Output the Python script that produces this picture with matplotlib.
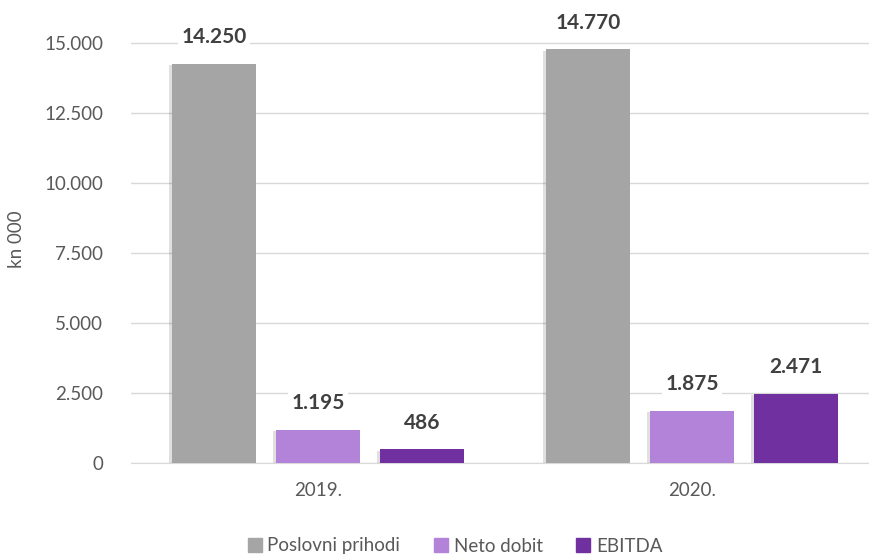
import numpy as np
import matplotlib
matplotlib.use("Agg")
import matplotlib.pyplot as plt
import matplotlib.patheffects as pe
from matplotlib.patches import Patch
from matplotlib.ticker import FuncFormatter

years = ["2019.", "2020."]
series_names = ["Poslovni prihodi", "Neto dobit", "EBITDA"]
poslovni_prihodi = [14250, 14770]
neto_dobit = [1195, 1875]
ebitda = [486, 2471]
colors = ["#A5A5A5", "#B383DA", "#7030A0"]

plt.rcParams["font.family"] = ["Lato", "DejaVu Sans"]

W, H = 870, 558
fig = plt.figure(figsize=(W / 100, H / 100), dpi=100)
ax = fig.add_axes([131 / W, 95 / H, (870 - 131) / W, (463 - 15) / H])

x = np.arange(len(years))
width = 84 / 374
step = 104 / 374
shadow = [pe.SimplePatchShadow(offset=(-2, -1), shadow_rgbFace="#000000", alpha=0.12), pe.Normal()]

for i, vals in enumerate([poslovni_prihodi, neto_dobit, ebitda]):
    bars = ax.bar(x + (i - 1) * step, vals, width, color=colors[i],
                  zorder=3, path_effects=shadow)
    for b, v in zip(bars, vals):
        ax.annotate(f"{v:,}".replace(",", "."), (b.get_x() + b.get_width() / 2, v),
                    xytext=(0, 12), textcoords="offset points", ha="center", va="bottom",
                    fontsize=15, fontweight="bold", color="#404040", zorder=4,
                    bbox=dict(boxstyle="square,pad=0.15", fc="white", ec="none"))

ax.set_xlim(-0.5, 1.476)
ax.set_ylim(0, 16000)
ax.set_yticks(np.arange(0, 15001, 2500))
ax.yaxis.set_major_formatter(FuncFormatter(lambda v, p: f"{int(v):,}".replace(",", ".")))
ax.set_xticks(x)
ax.set_xticklabels(years)
ax.grid(axis="y", color="#D9D9D9", lw=1, zorder=0)
for s in ["top", "right", "left"]:
    ax.spines[s].set_visible(False)
ax.spines["bottom"].set_color("#D9D9D9")
ax.tick_params(axis="both", length=0, labelsize=13.5, colors="#595959")
ax.tick_params(axis="x", pad=14)
ax.tick_params(axis="y", pad=20)
ax.set_ylabel("kn 000", fontsize=13.5, color="#595959", labelpad=14)

handles = [Patch(color=c) for c in colors]
ax.legend(handles, series_names, loc="center", bbox_to_anchor=(455 / W, 12 / H),
          bbox_transform=fig.transFigure, ncol=3, frameon=False, fontsize=13.5,
          handlelength=0.75, handleheight=0.75, handletextpad=0.3, columnspacing=1.8,
          labelcolor="#595959")

fig.savefig("out.png", dpi=100)
